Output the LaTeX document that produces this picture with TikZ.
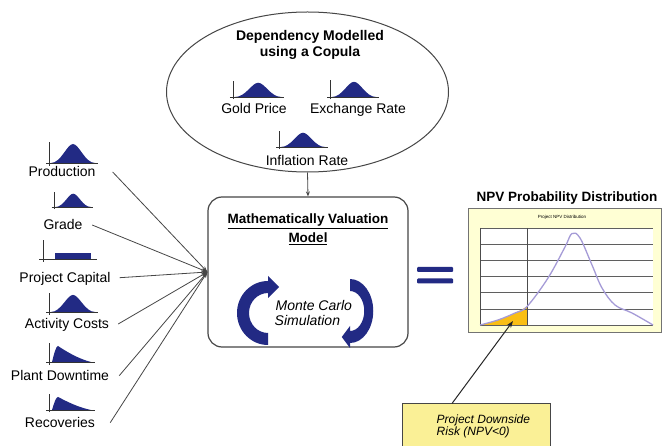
\documentclass[tikz,border=0pt]{standalone}
\usepackage{fontspec}
\setmainfont{Liberation Sans}
\usetikzlibrary{shapes.geometric,arrows.meta}
\definecolor{navy}{RGB}{34,42,132}
\definecolor{edge}{RGB}{70,70,70}
\definecolor{chartbg}{RGB}{255,255,212}
\definecolor{curvecol}{RGB}{165,155,215}
\definecolor{riskfill}{RGB}{250,190,20}
\definecolor{callbg}{RGB}{250,240,150}
\definecolor{gridcol}{RGB}{95,95,95}
\begin{document}
\begin{tikzpicture}[x=1pt,y=-1pt,
  every node/.style={inner sep=0pt},
  lab/.style={font=\fontsize{14}{16}\selectfont, text height=10pt, text depth=0pt},
  ttl/.style={font=\bfseries\fontsize{14}{16}\selectfont, text height=10pt, text depth=0pt},
  boxttl/.style={font=\bfseries\fontsize{13.5}{16}\selectfont, text height=9.7pt, text depth=0pt},
  sim/.style={font=\itshape\fontsize{14}{16}\selectfont, text height=10pt, text depth=0pt, anchor=west},
  calltext/.style={font=\itshape\fontsize{12}{14}\selectfont, text height=8.6pt, text depth=0pt, anchor=west},
  feed/.style={draw=edge, line width=0.8pt, -{Stealth[length=6pt,width=4pt]}},
  pointer/.style={draw=black!85, line width=1pt, -{Stealth[length=7pt,width=5pt]}},
  bellglyph/.pic={
    \fill[navy] (2,0) .. controls (12,0) and (18,-19) .. (24,-19) .. controls (30,-19) and (36,0) .. (46,0) -- cycle;
    \draw[black!80, line width=0.8pt] (0,3) -- (0,-21) (-3,0) -- (49,0);
  },
  skewglyph/.pic={
    \fill[navy] (3,0) .. controls (5,-8) and (7,-16) .. (9,-16) .. controls (18,-10) and (30,-3) .. (42,0) -- cycle;
    \draw[black!80, line width=0.8pt] (0,3) -- (0,-19) (-3,0) -- (46,0);
  },
  rectglyph/.pic={
    \fill[navy] (12,-6) rectangle (48,0);
    \draw[black!80, line width=0.8pt] (0,3) -- (0,-19) (-4,0) -- (54,0);
  },
  loopArrow/.pic={
    \fill[navy] (0,-32) arc[start angle=270, end angle=90, x radius=31, y radius=32]
      -- (0,20) arc[start angle=90, end angle=270, x radius=19, y radius=20]
      -- (0,-15) -- (11,-26) -- (0,-37) -- cycle;
  }
]
\clip (0,0) rectangle (662,446);
\fill[white] (0,0) rectangle (662,446);

% ---- copula ellipse ----
\node[draw=edge, line width=1pt, ellipse, minimum width=282pt, minimum height=160pt] (copula) at (307.5,92) {};
\node[ttl] (cop1) at (310,36) {Dependency Modelled};
\node[ttl] (cop2) at (310,52) {using a Copula};
\pic[xscale=1.05, yscale=0.75] at (233,97) {bellglyph};
\pic[yscale=0.8] at (330,97) {bellglyph};
\pic[yscale=0.75] at (279,147) {bellglyph};
\node[lab] (gold) at (254,109) {Gold Price};
\node[lab] (exch) at (358,109) {Exchange Rate};
\node[lab] (infl) at (307,160.5) {Inflation Rate};

% ---- model box ----
\node[draw=edge, line width=1.2pt, rounded corners=14pt, minimum width=200pt, minimum height=150pt] (model) at (308,272) {};
\node[boxttl] (m1) at (308,219) {\underline{Mathematically Valuation}};
\node[boxttl] (m2) at (308,237.5) {\underline{Model}};
\pic at (268,313) {loopArrow};
\pic[rotate=180, xscale=0.75] at (350,311) {loopArrow};
\node[sim] (mc1) at (275.5,305.3) {Monte Carlo};
\node[sim] (mc2) at (274.5,321) {Simulation};

\draw[draw=edge, line width=0.8pt, -{Stealth[length=5pt,width=4pt]}] (copula.south) -- (model.north);

% ---- input variables ----
\pic at (49,163) {bellglyph};
\pic[xscale=0.8, yscale=0.7] at (54,207) {bellglyph};
\pic at (43,259) {rectglyph};
\pic[yscale=0.9] at (49,312) {bellglyph};
\pic at (49,362) {skewglyph};
\pic[yscale=0.82] at (49,410) {skewglyph};
\node[lab] (prod) at (62,172) {Production};
\node[lab] (grade) at (63,225) {Grade};
\node[lab] (capital) at (65,277.7) {Project Capital};
\node[lab] (costs) at (67,324) {Activity Costs};
\node[lab] (downtime) at (60,375.7) {Plant Downtime};
\node[lab] (recov) at (60,422.7) {Recoveries};
\draw[feed] ([xshift=17pt]prod.east) -- (model.west);
\draw[feed] ([xshift=9.5pt]grade.east) -- (model.west);
\draw[feed] ([xshift=9pt]capital.east) -- (model.west);
\draw[feed] ([xshift=9pt]costs.east) -- (model.west);
\draw[feed] ([xshift=10pt]downtime.east) -- (model.west);
\draw[feed] ([xshift=15pt]recov.east) -- (model.west);

% ---- equals sign ----
\fill[navy, rounded corners=1pt] (417,267) rectangle (453,272);
\fill[navy, rounded corners=1pt] (417,278.5) rectangle (453,283.5);

% ---- NPV chart ----
\node[ttl, font=\bfseries\fontsize{13.5}{16}\selectfont] (npvtitle) at (567,197) {NPV Probability Distribution};
\fill[chartbg] (468,208) rectangle (661,332);
\draw[draw=black!55, line width=0.8pt] (468,208) rectangle (661,332);
\fill[white] (480,228) rectangle (653,325);
\node[font=\fontsize{4.5}{5}\selectfont] (charttitle) at (562,217) {Project NPV Distribution};
\fill[riskfill] plot[smooth, tension=0.6] coordinates {(480,325) (498,320) (515,313) (527,306.5)} -- (527,325) -- cycle;
\foreach \gy in {228,244.2,260.4,276.6,292.8,309,325.2}
  \draw[gridcol, line width=0.6pt] (480,\gy) -- (653,\gy);
\draw[black!70, line width=0.7pt] (480,228) -- (480,325);
\draw[black!70, line width=0.8pt] (527,228) -- (527,325);
\draw[curvecol, line width=1.3pt] plot[smooth, tension=0.6] coordinates {(480,325) (498,320) (515,313) (527,306.5) (548,278) (565,247) (572,233.5) (580,238) (592,265) (602,288) (615,305) (632,313) (653,325)};

% ---- callout ----
\node[draw=edge, fill=callbg, line width=1pt, minimum width=148pt, minimum height=48pt] (callout) at (476,428) {};
\node[calltext] (risk1) at (436.5,419) {Project Downside};
\node[calltext] (risk2) at (436.5,431) {Risk (NPV<0)};
\coordinate (risk) at (513,321);
\draw[pointer] ([xshift=-24pt]callout.north) -- (risk);
\end{tikzpicture}
\end{document}
